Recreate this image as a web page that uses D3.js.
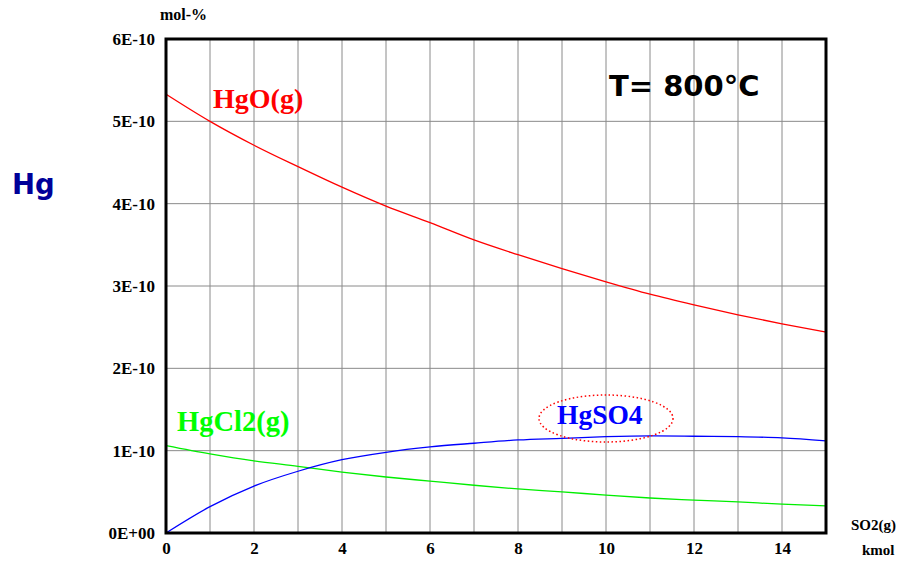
<!DOCTYPE html>
<html><head><meta charset="utf-8">
<script src="https://cdn.jsdelivr.net/npm/d3@7"></script>
<style>body{margin:0;background:#fff}svg{display:block}</style>
</head><body>
<svg id="c" width="899" height="561"></svg>
<script>
const xVals = [0,1,2,3,4,5,6,7,8,9,10,11,12,13,14,15];
const hgO   = [5.33,5.00,4.71,4.45,4.20,3.97,3.77,3.56,3.38,3.21,3.05,2.90,2.77,2.65,2.54,2.44];
const hgCl2 = [1.06,0.96,0.875,0.81,0.74,0.68,0.63,0.58,0.535,0.50,0.46,0.425,0.40,0.377,0.35,0.33];
const hgSO4 = [0,0.32,0.57,0.75,0.89,0.98,1.045,1.09,1.13,1.15,1.17,1.18,1.175,1.17,1.155,1.12];
const yTicks = [0,1,2,3,4,5,6];
const yTickLabels = ["0E+00","1E-10","2E-10","3E-10","4E-10","5E-10","6E-10"];
const xTicks = [0,2,4,6,8,10,12,14];

const svg = d3.select("#c");
const L=166,R=826,T=39,B=533;
const x = d3.scaleLinear().domain([0,15]).range([L,R]);
const y = d3.scaleLinear().domain([0,6]).range([B,T]);
const serif = "'Liberation Serif','Times New Roman',serif";
const sans = "'DejaVu Sans','Liberation Sans',sans-serif";

// grid
const g = svg.append("g");
g.selectAll("line.v").data(d3.range(1,15)).join("line")
 .attr("x1",d=>x(d)).attr("x2",d=>x(d)).attr("y1",T).attr("y2",B)
 .attr("stroke","#8a8a8a").attr("stroke-width",1);
g.selectAll("line.h").data(d3.range(1,6)).join("line")
 .attr("x1",L).attr("x2",R).attr("y1",d=>y(d)).attr("y2",d=>y(d))
 .attr("stroke","#8a8a8a").attr("stroke-width",1);

// axes ticks labels
const yAxis = d3.axisLeft(y).tickValues(yTicks).tickFormat((d,i)=>yTickLabels[i]).tickSize(0).tickPadding(11);
const ya = svg.append("g").attr("transform",`translate(${L},0)`).call(yAxis);
ya.select(".domain").remove();
ya.selectAll("text").attr("font-family",serif).attr("font-weight","bold").attr("font-size",17).attr("fill","#000");

const xAxis = d3.axisBottom(x).tickValues(xTicks).tickFormat(d3.format("d")).tickSize(0).tickPadding(9);
const xa = svg.append("g").attr("transform",`translate(0,${B})`).call(xAxis);
xa.select(".domain").remove();
xa.selectAll("text").attr("font-family",serif).attr("font-weight","bold").attr("font-size",17).attr("fill","#000");

// lines
const line = d3.line().x((d,i)=>x(xVals[i])).y(d=>y(d)).curve(d3.curveMonotoneX);
[[hgO,"#ff0000"],[hgCl2,"#00ee00"],[hgSO4,"#0000ff"]].forEach(([s,c])=>{
  svg.append("path").attr("d",line(s)).attr("fill","none").attr("stroke",c).attr("stroke-width",1.3);
});

// frame
svg.append("rect").attr("x",L).attr("y",T).attr("width",R-L).attr("height",B-T)
 .attr("fill","none").attr("stroke","#000").attr("stroke-width",3);

// labels
svg.append("text").attr("x",213).attr("y",108).text("HgO(g)")
 .attr("font-family",serif).attr("font-weight","bold").attr("font-size",28).attr("fill","#ff0000");
svg.append("text").attr("x",177).attr("y",431).text("HgCl2(g)")
 .attr("font-family",serif).attr("font-weight","bold").attr("font-size",28.5).attr("fill","#00ff00");
svg.append("ellipse").attr("cx",606).attr("cy",418.5).attr("rx",67).attr("ry",23.5)
 .attr("fill","none").attr("stroke","#ff0000").attr("stroke-width",1.5).attr("stroke-dasharray","1.5,2.5");
svg.append("text").attr("x",557).attr("y",424).text("HgSO4")
 .attr("font-family",serif).attr("font-weight","bold").attr("font-size",27.5).attr("fill","#0000ff");
svg.append("text").attr("x",609).attr("y",96).text("T= 800°C")
 .attr("font-family",sans).attr("font-weight","bold").attr("font-size",29).attr("fill","#000");
svg.append("text").attr("x",12).attr("y",194).text("Hg")
 .attr("font-family",sans).attr("font-weight","bold").attr("font-size",27.5).attr("fill","#000099");
svg.append("text").attr("x",160).attr("y",20).text("mol-%")
 .attr("font-family",serif).attr("font-weight","bold").attr("font-size",16).attr("fill","#000");
svg.append("text").attr("x",851).attr("y",530).text("SO2(g)")
 .attr("font-family",serif).attr("font-weight","bold").attr("font-size",15).attr("fill","#000");
svg.append("text").attr("x",862).attr("y",555).text("kmol")
 .attr("font-family",serif).attr("font-weight","bold").attr("font-size",15).attr("fill","#000");
</script>
</body></html>
